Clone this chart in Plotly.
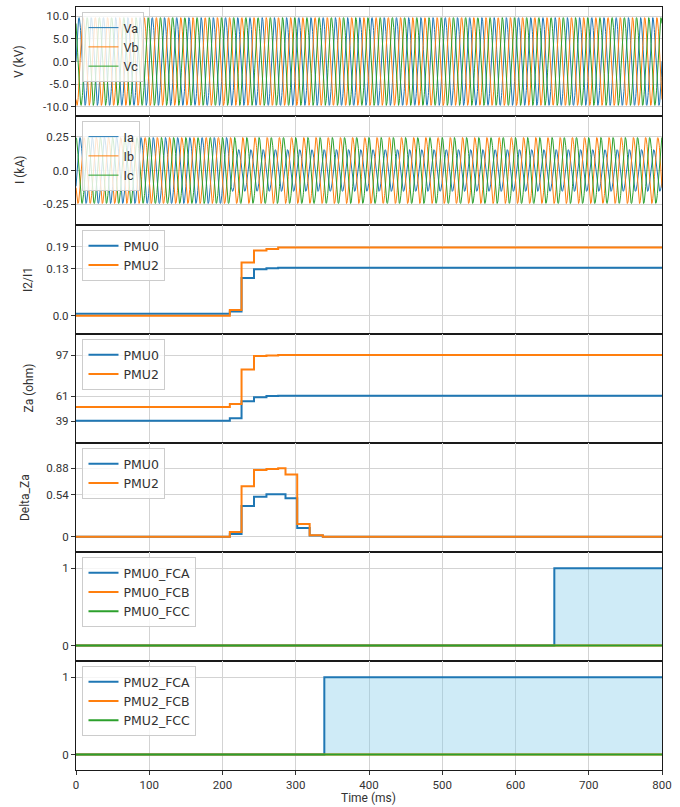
import numpy as np
import plotly.graph_objects as go
from plotly.subplots import make_subplots

# ---------------- data ----------------
T_END_MS = 800
F_HZ = 60.0
PHASES_DEG = [0.0, -120.0, 120.0]
V_AMPL_KV = [9.7, 9.7, 9.7]
I_AMPL_PRE_KA = [0.245, 0.245, 0.245]
I_AMPL_POST_KA = [0.155, 0.245, 0.245]
FAULT_T_MS = 210.0
V_NAMES = ["Va", "Vb", "Vc"]
I_NAMES = ["Ia", "Ib", "Ic"]

STEP_T = [0, 210, 226, 243, 260, 276, 286, 302, 319, 337, 800]
I2I1_PMU0 = [0.006, 0.012, 0.104, 0.128, 0.131, 0.132, 0.132, 0.132, 0.132, 0.132, 0.132]
I2I1_PMU2 = [0.0, 0.016, 0.147, 0.180, 0.184, 0.188, 0.188, 0.188, 0.188, 0.188, 0.188]
ZA_PMU0 = [39.3, 41.4, 56.3, 59.8, 60.9, 61.2, 61.2, 61.2, 61.2, 61.2, 61.2]
ZA_PMU2 = [51.3, 54.0, 84.4, 96.1, 96.7, 97.0, 97.0, 97.0, 97.0, 97.0, 97.0]
DZA_PMU0 = [0.0, 0.034, 0.395, 0.515, 0.545, 0.545, 0.494, 0.112, 0.015, 0.0, 0.0]
DZA_PMU2 = [0.0, 0.060, 0.650, 0.860, 0.870, 0.882, 0.800, 0.163, 0.020, 0.0, 0.0]

FLAG_T_PMU0 = [0, 653, 800]
PMU0_FCA = [0, 1, 1]
PMU0_FCB = [0, 0, 0]
PMU0_FCC = [0, 0, 0]
FLAG_T_PMU2 = [0, 339, 800]
PMU2_FCA = [0, 1, 1]
PMU2_FCB = [0, 0, 0]
PMU2_FCC = [0, 0, 0]

X_TICKS = [0, 100, 200, 300, 400, 500, 600, 700, 800]

# ---------------- styling ----------------
C = ["#1f77b4", "#ff7f0e", "#2ca02c"]
FONT = "Roboto"
LEG_FONT = "DejaVu Sans"
L, R, T, B = 75.5, 662.0, 7.0, 770.0
W_PX, H_PX = R - L, B - T

t = np.arange(0, T_END_MS + 0.001, 0.25)
w = 2 * np.pi * F_HZ / 1000.0

fig = make_subplots(rows=7, cols=1, shared_xaxes=True, vertical_spacing=0)

# voltages
for k in range(3):
    v = V_AMPL_KV[k] * np.sin(w * t + np.deg2rad(PHASES_DEG[k]))
    fig.add_trace(go.Scatter(x=t, y=v, mode="lines", name=V_NAMES[k],
                             line=dict(color=C[k], width=1), legend="legend"), row=1, col=1)
# currents
for k in range(3):
    amp = np.where(t < FAULT_T_MS, I_AMPL_PRE_KA[k], I_AMPL_POST_KA[k])
    i = amp * np.sin(w * t + np.deg2rad(PHASES_DEG[k]) - 0.5)
    fig.add_trace(go.Scatter(x=t, y=i, mode="lines", name=I_NAMES[k],
                             line=dict(color=C[k], width=1), legend="legend2"), row=2, col=1)

def steps(row, leg, series):
    for (name, y, col) in series:
        fig.add_trace(go.Scatter(x=STEP_T, y=y, mode="lines", name=name, line_shape="hv",
                                 line=dict(color=col, width=2), legend=leg), row=row, col=1)

steps(3, "legend3", [("PMU0", I2I1_PMU0, C[0]), ("PMU2", I2I1_PMU2, C[1])])
steps(4, "legend4", [("PMU0", ZA_PMU0, C[0]), ("PMU2", ZA_PMU2, C[1])])
steps(5, "legend5", [("PMU0", DZA_PMU0, C[0]), ("PMU2", DZA_PMU2, C[1])])

def flags(row, leg, tt, prefix, a, b, c):
    fig.add_trace(go.Scatter(x=tt, y=a, mode="lines", line_shape="hv", line=dict(width=0),
                             fill="tozeroy", fillcolor="rgba(135,206,235,0.4)",
                             showlegend=False, hoverinfo="skip"), row=row, col=1)
    for (nm, y, col) in [(prefix + "_FCA", a, C[0]), (prefix + "_FCB", b, C[1]), (prefix + "_FCC", c, C[2])]:
        fig.add_trace(go.Scatter(x=tt, y=y, mode="lines", name=nm, line_shape="hv",
                                 line=dict(color=col, width=2), legend=leg), row=row, col=1)

flags(6, "legend6", FLAG_T_PMU0, "PMU0", PMU0_FCA, PMU0_FCB, PMU0_FCC)
flags(7, "legend7", FLAG_T_PMU2, "PMU2", PMU2_FCA, PMU2_FCB, PMU2_FCC)

yspecs = [
    ([-12.05, 12.05], [-10, -5, 0, 5, 10], ["-10.0", "-5.0", "0.0", "5.0", "10.0"]),
    ([-0.405, 0.405], [-0.25, 0, 0.25], ["-0.25", "0.0", "0.25"]),
    ([-0.05, 0.25], [0, 0.13, 0.19], ["0.0", "0.13", "0.19"]),
    ([19.7, 115.5], [39, 61, 97], ["39", "61", "97"]),
    ([-0.197, 1.206], [0, 0.54, 0.88], ["0", "0.54", "0.88"]),
    ([-0.2, 1.21], [0, 1], ["0", "1"]),
    ([-0.2, 1.21], [0, 1], ["0", "1"]),
]
for r, (rng, tv, tt) in enumerate(yspecs, start=1):
    fig.update_yaxes(range=rng, tickvals=tv, ticktext=tt, row=r, col=1,
                     showgrid=True, gridcolor="#d3d3d3", gridwidth=1, zeroline=False,
                     showline=True, mirror=True, linecolor="#1a1a1a", linewidth=1.2,
                     ticks="outside", ticklen=4, tickcolor="#333", tickwidth=1,
                     tickfont=dict(family=FONT, size=11.5, color="#333"))
for r in range(1, 8):
    fig.update_xaxes(range=[0, 800], tickvals=X_TICKS, row=r, col=1,
                     showgrid=True, gridcolor="#d3d3d3", gridwidth=1, zeroline=False,
                     showline=True, mirror=True, linecolor="#1a1a1a", linewidth=1.2,
                     tickfont=dict(family=FONT, size=11.5, color="#333"))
fig.update_xaxes(ticks="outside", ticklen=4, tickcolor="#333", showticklabels=True, row=7, col=1)

def px_x(p):
    return (p - L) / W_PX

def px_y(p):
    return 1 - (p - T) / H_PX

layout_legends = {}
for i in range(7):
    key = "legend" if i == 0 else "legend%d" % (i + 1)
    top = T + i * H_PX / 7 + 5
    fam = FONT if i < 2 else LEG_FONT
    layout_legends[key] = dict(x=px_x(82), y=px_y(top), xanchor="left", yanchor="top",
                               bgcolor="rgba(255,255,255,0.8)", bordercolor="#cccccc",
                               borderwidth=1, font=dict(family=fam, size=12.5, color="#333"))
fig.update_layout(**layout_legends)

titles = [("V (kV)", 19), ("I (kA)", 19), ("I2/I1", 27), ("Za (ohm)", 27.5), ("Delta_Za", 24)]
for i, (txt, xp) in enumerate(titles):
    yc = T + (i + 0.5) * H_PX / 7
    fig.add_annotation(text=txt, x=px_x(xp), y=px_y(yc), xref="paper", yref="paper",
                       textangle=-90, showarrow=False, xanchor="center", yanchor="middle",
                       font=dict(family=FONT, size=12, color="#333"))
fig.add_annotation(text="Time (ms)", x=px_x(368.7), y=px_y(798), xref="paper", yref="paper",
                   showarrow=False, xanchor="center", yanchor="middle",
                   font=dict(family=FONT, size=12, color="#333"))

fig.update_layout(width=680, height=807, margin=dict(l=L, r=680 - R, t=T, b=807 - B),
                  paper_bgcolor="white", plot_bgcolor="white")

fig.write_html("out.html", config={"displayModeBar": False},
               post_script="document.body.style.margin='0';document.body.style.padding='0';")
